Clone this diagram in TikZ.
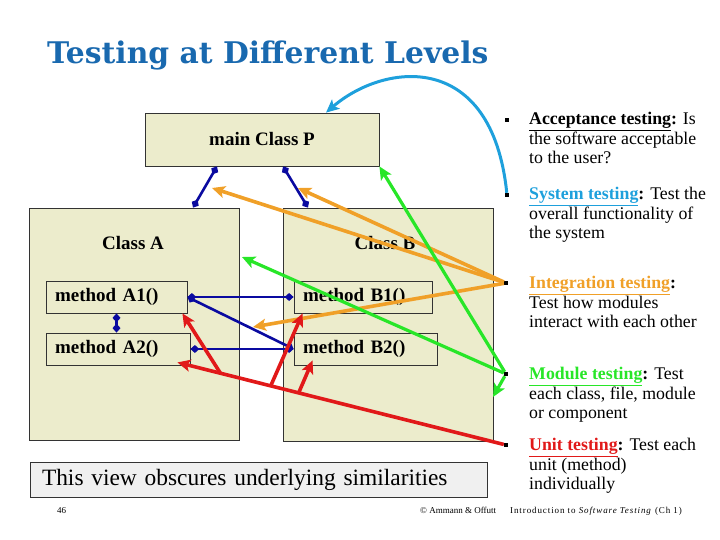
\documentclass[tikz,border=0pt]{standalone}
\usepackage{fontspec}
\setmainfont{Liberation Serif}
\newfontfamily\titlefont{DejaVu Serif}
\usetikzlibrary{arrows.meta,calc}

\definecolor{classfill}{RGB}{236,236,204}
\definecolor{notefill}{RGB}{240,240,240}
\definecolor{titleblue}{RGB}{25,105,175}
\definecolor{linkblue}{RGB}{10,10,160}
\definecolor{syscyan}{RGB}{30,160,220}
\definecolor{integorange}{RGB}{240,160,40}
\definecolor{modgreen}{RGB}{40,230,40}
\definecolor{unitred}{RGB}{225,25,25}

\begin{document}
\begin{tikzpicture}[x=1pt, y=-1pt,
  cls/.style={draw=black!80, fill=classfill, line width=0.8pt, inner sep=0pt},
  clsname/.style={inner sep=0pt, font=\fontsize{19}{22}\selectfont\bfseries},
  method/.style={draw=black!80, fill=classfill, line width=0.8pt, minimum height=32pt,
                 inner xsep=9pt, inner ysep=0pt, align=left, font=\fontsize{19}{22}\selectfont\bfseries},
  level/.style={anchor=north west, inner sep=0pt, align=left, font=\fontsize{17.8}{19.5}\selectfont},
  foot/.style={anchor=base west, inner sep=0pt, font=\fontsize{9}{11}\selectfont},
  bul/.style={fill=black, minimum size=4pt, inner sep=0pt},
  link/.style={draw=linkblue, line width=2.6pt, {Diamond[length=9pt,width=8pt]}-{Diamond[length=9pt,width=8pt]}},
  hit/.style={line width=3.6pt, -{Stealth[length=13pt,width=12pt,inset=3pt]}}
]
\useasboundingbox (0,0) rectangle (720,540);

% title
\node[anchor=base west, inner sep=0pt, text=titleblue,
      font=\titlefont\bfseries\fontsize{29.8}{34}\selectfont] (title) at (47,64) {Testing at Different Levels};

% classes
\node[cls, minimum width=234pt, minimum height=53pt, font=\fontsize{19}{22}\selectfont\bfseries] (classP) at (262,139.5) {main Class P};
\node[cls, minimum width=210pt, minimum height=232pt] (classA) at (134,324) {};
\node[clsname] (nameA) at (133,243) {Class A};
\node[cls, minimum width=210pt, minimum height=233pt] (classB) at (388,324.5) {};
\node[clsname] (nameB) at (385,243) {Class B};

% methods
\node[method, text width=123pt] (mA1) at (116.5,297) {method A1()};
\node[method, text width=126pt] (mA2) at (118,349) {method A2()};
\node[method, text width=120pt] (mB1) at (363,297) {method B1()};
\node[method, text width=125pt] (mB2) at (365.5,349) {method B2()};

% note and footer
\node[draw=black!80, fill=notefill, line width=0.8pt, text width=433pt, inner xsep=12pt, inner ysep=0pt,
      minimum height=35pt, align=left, font=\fontsize{23.4}{26}\selectfont] (note) at (258.5,479.5) {This view obscures underlying similarities};
\node[foot] (page) at (57,513) {46};
\node[foot] (copy) at (420,513) {\textcopyright\ Ammann \& Offutt};
\node[foot] (book) at (510,513) {\addfontfeature{LetterSpace=10}Introduction to \textit{Software Testing} (Ch 1)};

% testing levels
\node[bul] (bA) at (507,120) {};
\node[bul] (bS) at (507,195) {};
\node[bul] (bI) at (506,283) {};
\node[bul] (bM) at (506,374) {};
\node[bul] (bU) at (506,445) {};
\node[level] (accept) at (529,112) {\textbf{\underline{Acceptance testing}:} Is\\the software acceptable\\to the user?};
\node[level] (system) at (529,187) {\textbf{\textcolor{syscyan}{\underline{System testing}}:} Test the\\overall functionality of\\the system};
\node[level] (integ) at (529,276) {\textbf{\textcolor{integorange}{\underline{Integration testing}}:}\\Test how modules\\interact with each other};
\node[level] (module) at (529,367) {\textbf{\textcolor{modgreen}{\underline{Module testing}}:} Test\\each class, file, module\\or component};
\node[level] (unit) at (529,438) {\textbf{\textcolor{unitred}{\underline{Unit testing}}:} Test each\\unit (method)\\individually};

% structural links
\draw[link] ([xshift=-45pt]classP.south) -- ([xshift=59pt]classA.north);
\draw[link] ([xshift=21pt]classP.south) -- ([xshift=-80pt]classB.north);
\draw[link] (mA1.east) -- (mB1.west);
\draw[link] (mA1.east) -- (mB2.west);
\draw[link] (mA1.south) -- (mA1.south |- mA2.north);
\draw[link] (mA2.east) -- (mB2.west);

% end points of the level arrows
\coordinate (sysTip) at ([xshift=64pt]classP.north);
\coordinate (intPA) at (212,188);
\coordinate (intPB) at (298,188);
\coordinate (intAB) at (253,327);
\coordinate (modA) at (242,257);
\coordinate (modB) at (493,397);
\coordinate (unitA2) at ([xshift=-13pt,yshift=3pt]mA2.south east);
\coordinate (r1) at ($(bU)!0.869!(unitA2)$);
\coordinate (r2) at ($(bU)!0.716!(unitA2)$);
\coordinate (r3) at ($(bU)!0.631!(unitA2)$);

% system
\draw[hit, syscyan, line width=3pt] (bS) .. controls (492,50) and (385,62) .. (sysTip);
% integration
\draw[hit, integorange] (bI) -- (intPA);
\draw[hit, integorange] (bI) -- (intPB);
\draw[hit, integorange] (bI) -- (intAB);
% module
\draw[hit, modgreen, line width=3.2pt] (bM) -- (classP.south east);
\draw[hit, modgreen, line width=3.2pt] (bM) -- (modA);
\draw[hit, modgreen, line width=3.2pt] (bM) -- (modB);
% unit
\draw[hit, unitred] (bU) -- (unitA2);
\draw[hit, unitred] (r1) -- ([xshift=-5pt]mA1.south east);
\draw[hit, unitred] (r2) -- ([xshift=9pt]mB1.south west);
\draw[hit, unitred] (r3) -- ([xshift=19pt,yshift=5pt]mB2.south west);
\end{tikzpicture}
\end{document}
